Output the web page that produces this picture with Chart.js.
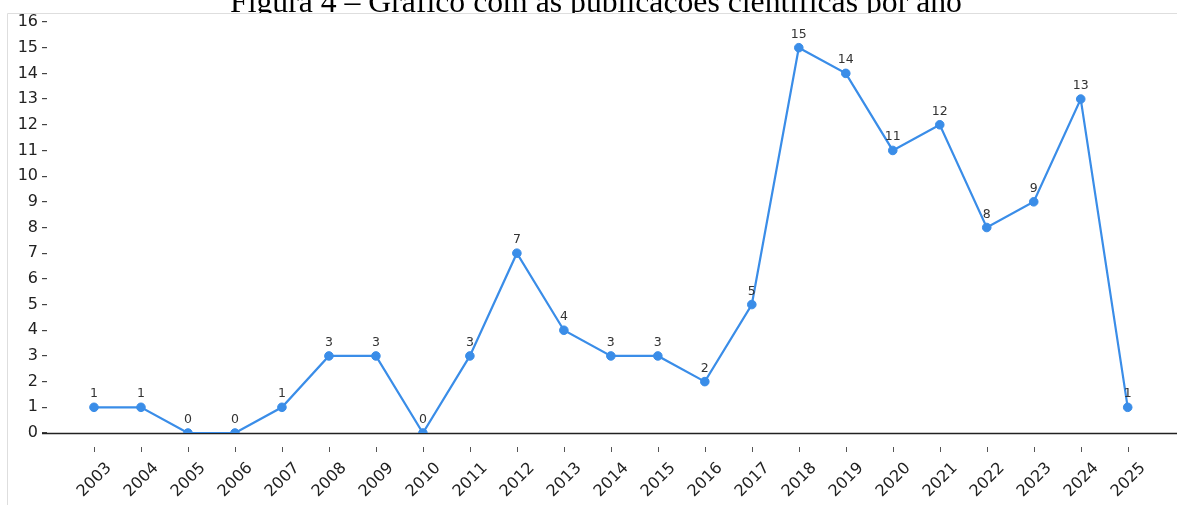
<!DOCTYPE html>
<html>
<head>
<meta charset="utf-8">
<script src="https://cdn.jsdelivr.net/npm/chart.js@4.4.1/dist/chart.umd.min.js"></script>
<style>
  html, body { margin: 0; padding: 0; background: #fff; }
  #wrap { width: 1177px; height: 505px; position: relative; }
</style>
</head>
<body>
<div id="wrap"><canvas id="c" width="1177" height="505"></canvas></div>
<script>
const titleText = "Figura 4 – Gráfico com as publicações científicas por ano";
const years = ["2003","2004","2005","2006","2007","2008","2009","2010","2011","2012","2013","2014","2015","2016","2017","2018","2019","2020","2021","2022","2023","2024","2025"];
const publications = [1,1,0,0,1,3,3,0,3,7,4,3,3,2,5,15,14,11,12,8,9,13,1];
const yTicks = [0,1,2,3,4,5,6,7,8,9,10,11,12,13,14,15,16];

const lineColor = '#3a8de8';

const decor = {
  id: 'decor',
  beforeDraw(chart) {
    const ctx = chart.ctx;
    const W = chart.width, H = chart.height;
    ctx.save();
    ctx.fillStyle = '#fff';
    ctx.fillRect(0, 0, W, H);
    let fs = 28;
    ctx.font = fs + 'px "Liberation Serif", "Times New Roman", serif';
    const w = ctx.measureText(titleText).width;
    fs = fs * 732 / w;
    ctx.font = fs + 'px "Liberation Serif", "Times New Roman", serif';
    ctx.fillStyle = '#000';
    ctx.textAlign = 'center';
    ctx.textBaseline = 'alphabetic';
    ctx.fillText(titleText, 596, 11.5);
    ctx.fillStyle = '#fff';
    ctx.fillRect(8, 14, W - 8, H - 14);
    ctx.strokeStyle = '#dedede';
    ctx.lineWidth = 1;
    ctx.beginPath();
    ctx.moveTo(7.5, H);
    ctx.lineTo(7.5, 13.5);
    ctx.lineTo(W, 13.5);
    ctx.stroke();
    ctx.restore();
  },
  beforeDatasetsDraw(chart) {
    const ctx = chart.ctx;
    const y0 = Math.round(chart.scales.y.getPixelForValue(0)) + 0.5;
    ctx.save();
    ctx.strokeStyle = '#222';
    ctx.lineWidth = 1.3;
    ctx.beginPath();
    ctx.moveTo(42, y0);
    ctx.lineTo(chart.width, y0);
    ctx.stroke();
    ctx.restore();
  },
  afterDatasetsDraw(chart) {
    const ctx = chart.ctx;
    const meta = chart.getDatasetMeta(0);
    ctx.save();
    ctx.font = '12.5px "DejaVu Sans", sans-serif';
    ctx.fillStyle = '#333';
    ctx.textAlign = 'center';
    ctx.textBaseline = 'alphabetic';
    meta.data.forEach((pt, i) => {
      ctx.fillText(String(publications[i]), pt.x, pt.y - 10);
    });
    ctx.restore();
  },
  afterDraw(chart) {
    const ctx = chart.ctx;
    const xs = chart.scales.x;
    ctx.save();
    ctx.strokeStyle = '#555';
    ctx.lineWidth = 1;
    ctx.font = '16px "DejaVu Sans", sans-serif';
    ctx.fillStyle = '#222';
    ctx.textAlign = 'center';
    ctx.textBaseline = 'middle';
    years.forEach((yr) => {
      const x = Math.round(xs.getPixelForValue(Number(yr))) + 0.5;
      ctx.beginPath();
      ctx.moveTo(x, 447);
      ctx.lineTo(x, 452);
      ctx.stroke();
      ctx.save();
      ctx.translate(x, 480);
      ctx.rotate(-Math.PI / 4);
      ctx.fillText(yr, 0, 0);
      ctx.restore();
    });
    ctx.restore();
  }
};

new Chart(document.getElementById('c'), {
  type: 'line',
  data: {
    datasets: [{
      data: years.map((y, i) => ({ x: Number(y), y: publications[i] })),
      borderColor: lineColor,
      backgroundColor: lineColor,
      pointBackgroundColor: lineColor,
      pointBorderColor: lineColor,
      borderWidth: 2.2,
      pointRadius: 4.3,
      pointBorderWidth: 1,
      tension: 0,
      fill: false
    }]
  },
  options: {
    responsive: false,
    animation: false,
    devicePixelRatio: 1,
    layout: { padding: { top: 22, right: 0, left: 0, bottom: 0 } },
    plugins: { legend: { display: false }, tooltip: { enabled: false }, title: { display: false } },
    scales: {
      x: {
        type: 'linear',
        min: 2002,
        max: 2002 + 1125 / 47,
        grid: { display: false },
        border: { display: false },
        ticks: { display: false },
        afterFit(s) { s.height = 72; }
      },
      y: {
        min: 0,
        max: 16,
        afterBuildTicks(s) { s.ticks = yTicks.map(v => ({ value: v })); },
        grid: { drawOnChartArea: false, drawTicks: true, tickLength: 5, color: '#444', lineWidth: 1.2 },
        border: { display: false },
        ticks: {
          font: { family: '"DejaVu Sans", sans-serif', size: 16 },
          color: '#222',
          padding: 4,
          autoSkip: false
        },
        afterFit(s) { s.width = 47; }
      }
    }
  },
  plugins: [decor]
});
</script>
</body>
</html>
